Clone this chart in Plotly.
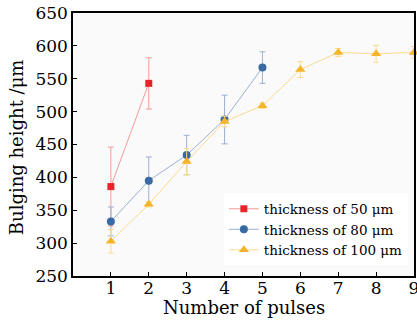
import plotly.graph_objects as go

pulses_50 = [1, 2]
height_50 = [386, 543]
err_50 = [60, 39]

pulses_80 = [1, 2, 3, 4, 5]
height_80 = [333, 395, 434, 488, 567]
err_80 = [22, 36, 30, 37, 24]

pulses_100 = [1, 2, 3, 4, 5, 6, 7, 8, 9]
height_100 = [303, 359, 424, 485, 509, 564, 590, 588, 590]
err_100 = [18, 4, 20, 8, 4, 12, 6, 13, 9]

x_ticks = [1, 2, 3, 4, 5, 6, 7, 8, 9]
y_ticks = [250, 300, 350, 400, 450, 500, 550, 600, 650]

x_title = "Number of pulses"
y_title = "Bulging height /μm"

FONT = "DejaVu Serif"

series = [
    ("thickness of 50 μm", pulses_50, height_50, err_50, "#e8242b", "#f49a98", "square", 7),
    ("thickness of 80 μm", pulses_80, height_80, err_80, "#3a6aa3", "#9db0d2", "circle", 8),
    ("thickness of 100 μm", pulses_100, height_100, err_100, "#f5b52a", "#fcd98f", "triangle-up", 9),
]

fig = go.Figure()
for name, xs, ys, es, mc, lc, sym, sz in series:
    fig.add_trace(go.Scatter(
        x=xs, y=ys, name=name, mode="lines+markers",
        line=dict(color=lc, width=1),
        marker=dict(color=mc, symbol=sym, size=sz, line=dict(width=0)),
        error_y=dict(type="data", array=es, visible=True, color=lc, thickness=1, width=3),
        cliponaxis=False,
    ))

fig.update_layout(
    width=417, height=321,
    margin=dict(l=73, r=3, t=13, b=45, autoexpand=False),
    paper_bgcolor="white",
    plot_bgcolor="#fafafa",
    font=dict(family=FONT, color="black"),
    showlegend=True,
    legend=dict(
        x=0.982, y=0.04, xanchor="right", yanchor="bottom",
        bgcolor="white", font=dict(family=FONT, size=13.5, color="black"),
        tracegroupgap=0, itemwidth=30,
    ),
    xaxis=dict(
        range=[0, 9], tickvals=x_ticks, ticks="inside", ticklen=4, tickcolor="black",
        showline=True, linecolor="black", linewidth=1.5, mirror=True,
        showgrid=False, zeroline=False, automargin=False,
        ticklabeloverflow="allow", ticklabelstandoff=-4,
        tickfont=dict(family=FONT, size=17),
    ),
    yaxis=dict(
        range=[250, 650], tickvals=y_ticks, ticks="inside", ticklen=4, tickcolor="black",
        showline=True, linecolor="black", linewidth=1.5, mirror=True,
        showgrid=False, zeroline=False, automargin=False,
        ticklabeloverflow="allow",
        tickfont=dict(family=FONT, size=17),
    ),
    annotations=[
        dict(text=x_title, xref="paper", yref="paper", x=0.5, y=-0.12,
             xanchor="center", yanchor="middle", showarrow=False,
             font=dict(family=FONT, size=18, color="black")),
        dict(text=y_title, xref="paper", yref="paper", x=-0.167, y=0.49,
             xanchor="center", yanchor="middle", showarrow=False, textangle=-90,
             font=dict(family=FONT, size=18, color="black")),
    ],
)

fig.write_html(
    "out.html",
    config={"displayModeBar": False},
    post_script="document.body.style.margin='0px';document.body.style.overflow='hidden';",
)
